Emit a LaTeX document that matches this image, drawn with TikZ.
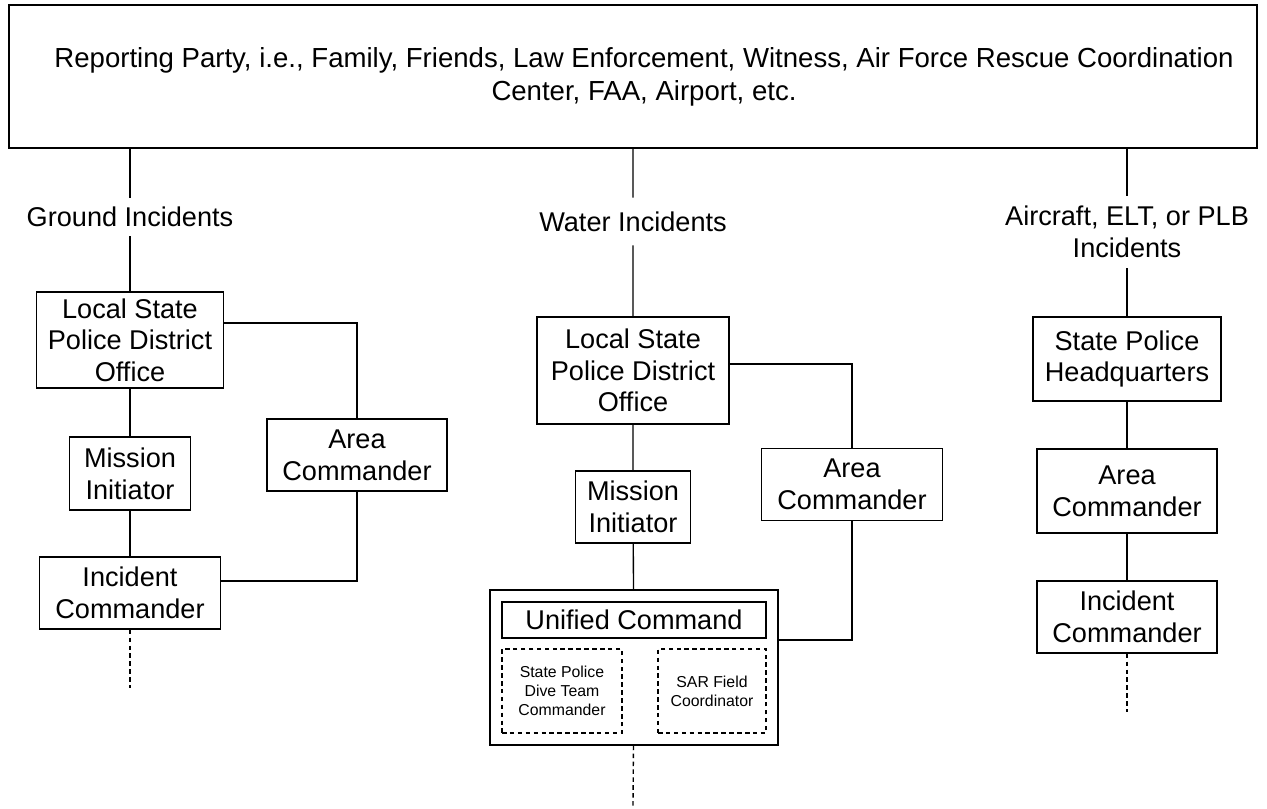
\documentclass[tikz,border=0pt]{standalone}
\usepackage{fontspec}
\setmainfont{Liberation Sans}
\usepackage{tikz}
\tikzstyle{box} = [draw=black, line width=0.6pt, align=center, inner sep=0pt, font={\fontsize{12}{14}\selectfont}]
\tikzstyle{lbl} = [align=center, inner sep=0pt, font={\fontsize{12}{14}\selectfont}]
\tikzstyle{dbox} = [draw=black, line width=0.6pt, dash pattern=on 2pt off 1.5pt, align=center, inner sep=0pt, font={\fontsize{7}{8.3}\selectfont}]
\tikzstyle{link} = [line width=0.6pt]
\tikzstyle{more} = [line width=0.6pt, dash pattern=on 2pt off 1.5pt]
\begin{document}
\begin{tikzpicture}[x=0.01555cm, y=-0.01555cm]
    \useasboundingbox (0,0) rectangle (1267,808);
    \node[box, line width=0.8pt, minimum width=19.41cm, minimum height=2.224cm](top) at (633,76.5){};
    \node[lbl, font={\fontsize{12.2}{14.6}\selectfont}](rp) at (644,77){Reporting Party, i.e., Family, Friends, Law Enforcement, Witness, Air Force Rescue Coordination\\Center, FAA, Airport, etc.};
    \node[lbl, minimum height=0.59cm](gi) at (130,217){Ground Incidents};
    \node[lbl, minimum height=0.73cm](wi) at (633,221.5){Water Incidents};
    \node[lbl, minimum height=1.12cm](ai) at (1127,232){Aircraft, ELT, or PLB\\Incidents};
    \node[box, minimum width=2.908cm, minimum height=1.493cm](ld1) at (130,340){Local State\\Police District\\Office};
    \node[box, minimum width=1.882cm, minimum height=1.135cm](mi1) at (130,473.5){Mission\\Initiator};
    \node[box, minimum width=2.815cm, minimum height=1.12cm](ic1) at (130,593){Incident\\Commander};
    \node[box, minimum width=2.8cm, minimum height=1.12cm](ac1) at (357,455){Area\\Commander};
    \coordinate (e1) at (130,688);
    \node[box, minimum width=2.986cm, minimum height=1.664cm](ld2) at (633,370.5){Local State\\Police District\\Office};
    \node[box, minimum width=1.788cm, minimum height=1.12cm](mi2) at (633,507){Mission\\Initiator};
    \node[box, minimum width=4.478cm, minimum height=2.41cm](uc) at (634,667.5){};
    \node[box, minimum width=4.105cm, minimum height=0.56cm](ucc) at (634,620){Unified Command};
    \node[dbox, minimum width=1.866cm, minimum height=1.306cm](dt) at (562,691){State Police\\Dive Team\\Commander};
    \node[dbox, minimum width=1.679cm, minimum height=1.306cm](sf) at (712,691){SAR Field\\Coordinator};
    \node[box, minimum width=2.815cm, minimum height=1.12cm](ac2) at (852,484.5){Area\\Commander};
    \coordinate (e2) at (633,808);
    \node[box, minimum width=2.92cm, minimum height=1.306cm](hq) at (1127,359){State Police\\Headquarters};
    \node[box, minimum width=2.8cm, minimum height=1.306cm](ac3) at (1127,491){Area\\Commander};
    \node[box, minimum width=2.8cm, minimum height=1.12cm](ic3) at (1127,617){Incident\\Commander};
    \coordinate (e3) at (1127,712);
    \draw[link](top.south -| gi) -- (gi) -- (ld1) -- (mi1) -- (ic1);
    \draw[more](ic1) -- (e1);
    \draw[link]([yshift=0.264cm]ld1.east) -| (ac1);
    \draw[link]([yshift=0.187cm]ic1.east) -| (ac1);
    \draw[link](top.south -| wi) -- (wi) -- (ld2) -- (mi2) -- (uc);
    \draw[more](uc) -- (e2);
    \draw[link]([yshift=0.1cm]ld2.east) -| (ac2);
    \draw[link]([yshift=0.428cm]uc.east) -| (ac2);
    \draw[link](top.south -| ai) -- (ai) -- (hq) -- (ac3) -- (ic3);
    \draw[more](ic3) -- (e3);
  \end{tikzpicture}
\end{document}
